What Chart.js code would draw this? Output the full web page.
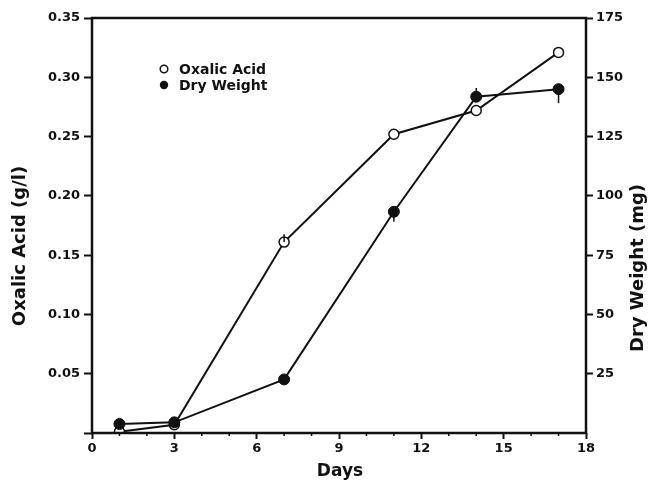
<!DOCTYPE html>
<html>
<head>
<meta charset="utf-8">
<script src="https://cdn.jsdelivr.net/npm/chart.js@4/dist/chart.umd.min.js"></script>
<style>
  html, body { margin: 0; padding: 0; background: #fff; }
  #wrap { width: 653px; height: 483px; position: relative; }
</style>
</head>
<body>
<div id="wrap"><canvas id="c"></canvas></div>
<script>
// ---- data ----
const days = [1, 3, 7, 11, 14, 17];
const oxalicAcid = [0.001, 0.007, 0.161, 0.252, 0.272, 0.321];   // g/l
const dryWeight = [3.8, 4.5, 22.6, 93.3, 141.8, 145];             // mg
const oxalicErrUp = [0, 0, 0.0067, 0, 0, 0];
const oxalicErrDown = [0, 0, 0, 0, 0, 0];
const dryErrUp = [0, 0, 0, 0, 3.7, 0];
const dryErrDown = [0, 0, 0, 4.2, 0, 5.9];
const xTicks = [0, 3, 6, 9, 12, 15, 18];
const leftTicks = [0.05, 0.10, 0.15, 0.20, 0.25, 0.30, 0.35];
const rightTicks = [25, 50, 75, 100, 125, 150, 175];
const seriesNames = ['Oxalic Acid', 'Dry Weight'];
const axisTitles = { x: 'Days', left: 'Oxalic Acid (g/l)', right: 'Dry Weight (mg)' };

const FONT = '"DejaVu Sans", sans-serif';
const INK = '#111';

const toXY = (ys) => days.map((d, i) => ({ x: d, y: ys[i] }));

const frame = {
  id: 'frame',
  afterDraw(chart) {
    const { ctx, chartArea: a, scales } = chart;
    ctx.save();
    // box
    ctx.strokeStyle = INK; ctx.lineWidth = 2.5;
    ctx.strokeRect(a.left, a.top, a.right - a.left, a.bottom - a.top);
    // minor x ticks
    ctx.lineWidth = 1.5;
    for (let d = 0; d <= 18; d++) {
      if (d % 3 === 0) continue;
      const px = scales.x.getPixelForValue(d);
      ctx.beginPath(); ctx.moveTo(px, a.bottom); ctx.lineTo(px, a.bottom + 3); ctx.stroke();
    }
    // axis titles
    ctx.fillStyle = INK;
    ctx.textAlign = 'center'; ctx.textBaseline = 'middle';
    ctx.font = 'bold 17px ' + FONT;
    ctx.fillText(axisTitles.x, 340, 472);
    ctx.font = 'bold 18px ' + FONT;
    ctx.save(); ctx.translate(20, 246); ctx.rotate(-Math.PI / 2);
    ctx.fillText(axisTitles.left, 0, 0); ctx.restore();
    ctx.save(); ctx.translate(638, 268); ctx.rotate(-Math.PI / 2);
    ctx.fillText(axisTitles.right, 0, 0); ctx.restore();
    // legend
    ctx.font = 'bold 14px ' + FONT;
    ctx.textAlign = 'left';
    ctx.lineWidth = 1.5;
    ctx.beginPath(); ctx.arc(164, 69, 3.8, 0, Math.PI * 2);
    ctx.fillStyle = '#fff'; ctx.fill(); ctx.strokeStyle = INK; ctx.stroke();
    ctx.beginPath(); ctx.arc(164, 85, 4.2, 0, Math.PI * 2);
    ctx.fillStyle = INK; ctx.fill();
    ctx.fillText(seriesNames[0], 179, 70);
    ctx.fillText(seriesNames[1], 179, 86);
    ctx.restore();
  }
};

const errorBars = {
  id: 'errorBars',
  afterDatasetsDraw(chart) {
    const { ctx, scales } = chart;
    ctx.save();
    ctx.strokeStyle = INK; ctx.lineWidth = 1.5;
    chart.data.datasets.forEach((ds) => {
      const ys = scales[ds.yAxisID];
      ds.data.forEach((p, i) => {
        const px = scales.x.getPixelForValue(p.x);
        const up = ds.errUp[i], dn = ds.errDown[i];
        if (up > 0) {
          ctx.beginPath(); ctx.moveTo(px, ys.getPixelForValue(p.y));
          ctx.lineTo(px, ys.getPixelForValue(p.y + up)); ctx.stroke();
        }
        if (dn > 0) {
          ctx.beginPath(); ctx.moveTo(px, ys.getPixelForValue(p.y));
          ctx.lineTo(px, ys.getPixelForValue(p.y - dn)); ctx.stroke();
        }
      });
    });
    ctx.restore();
  }
};

new Chart(document.getElementById('c'), {
  type: 'scatter',
  data: {
    datasets: [
      {
        label: seriesNames[1], data: toXY(dryWeight), yAxisID: 'y2',
        errUp: dryErrUp, errDown: dryErrDown,
        showLine: true, borderColor: INK, borderWidth: 2,
        pointRadius: 5.5, pointBackgroundColor: INK, pointBorderColor: INK, pointBorderWidth: 1
      },
      {
        label: seriesNames[0], data: toXY(oxalicAcid), yAxisID: 'y',
        errUp: oxalicErrUp, errDown: oxalicErrDown,
        showLine: true, borderColor: INK, borderWidth: 2,
        pointRadius: 5, pointBackgroundColor: '#fff', pointBorderColor: INK, pointBorderWidth: 1.5
      }
    ]
  },
  options: {
    responsive: true, maintainAspectRatio: false, animation: false,
    layout: { padding: { top: 18, left: 0, right: 0, bottom: 0 } },
    plugins: { legend: { display: false }, tooltip: { enabled: false } },
    scales: {
      x: {
        type: 'linear', min: 0, max: 18,
        afterBuildTicks: (s) => { s.ticks = xTicks.map(v => ({ value: v })); },
        afterFit: (s) => { s.height = 50; },
        ticks: { color: INK, font: { family: FONT, size: 13, weight: 'bold' }, padding: 2, maxRotation: 0 },
        grid: { drawOnChartArea: false, tickLength: 6, tickWidth: 2, tickColor: INK },
        border: { display: false }
      },
      y: {
        type: 'linear', position: 'left', min: 0, max: 0.35,
        afterBuildTicks: (s) => { s.ticks = [0].concat(leftTicks).map(v => ({ value: v })); },
        afterFit: (s) => { s.width = 92; },
        ticks: { color: INK, font: { family: FONT, size: 13, weight: 'bold' }, padding: 4,
                 callback: (v) => v === 0 ? '' : Number(v).toFixed(2) },
        grid: { drawOnChartArea: false, tickLength: 8, tickWidth: 2, tickColor: INK },
        border: { display: false }
      },
      y2: {
        type: 'linear', position: 'right', min: 0, max: 175,
        afterBuildTicks: (s) => { s.ticks = rightTicks.map(v => ({ value: v })); },
        afterFit: (s) => { s.width = 67; },
        ticks: { color: INK, font: { family: FONT, size: 13, weight: 'bold' }, padding: 3,
                 callback: (v) => String(v) },
        grid: { drawOnChartArea: false, tickLength: 7, tickWidth: 2, tickColor: INK },
        border: { display: false }
      }
    }
  },
  plugins: [frame, errorBars]
});
</script>
</body>
</html>
